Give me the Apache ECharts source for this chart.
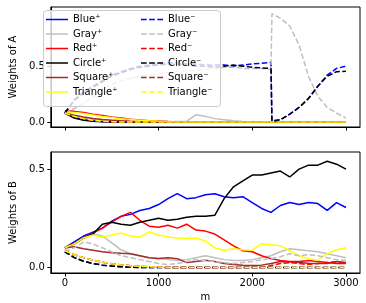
<!DOCTYPE html>
<html><head><meta charset="utf-8">
<script src="https://cdn.jsdelivr.net/npm/echarts@6/dist/echarts.min.js"></script>
<style>html,body{margin:0;padding:0;background:#fff}#c{width:366px;height:303px}</style>
</head><body><div id="c"></div>
<script>
const names = ['Blue\u207A','Gray\u207A','Red\u207A','Circle\u207A','Square\u207A','Triangle\u207A',
               'Blue\u207B','Gray\u207B','Red\u207B','Circle\u207B','Square\u207B','Triangle\u207B'];
const colors = ['#0000ff','#bfbfbf','#ff0000','#000000','#a52a2a','#ffff00'];
const xTicks = [0,1000,2000,3000];
const yTicks = [0,0.5];

// Panel A: m positions (a jump just after 2200)
const mA = [0,100,200,300,400,500,600,700,800,900,1000,1100,1200,1300,1400,1500,1600,1700,1800,1900,2000,2100,2200,2210,2300,2400,2500,2600,2700,2800,2900,3000];
const A_bluePlus   = [0.08,0.04,0.02,0.01,0.004,0,0,0,0,0,0,0,0,0,0,0,0,0,0,0,0,0,0,0,0,0,0,0,0,0,0,0];
const A_grayPlus   = [0.08,0.05,0.035,0.025,0.02,0.015,0.01,0.006,0.005,0.005,0.004,0.004,0.004,0.005,0.065,0.05,0.03,0.02,0.01,0.004,0,0,0,0,0,0,0,0,0,0,0,0];
const A_redPlus    = [0.1,0.095,0.085,0.07,0.058,0.045,0.035,0.025,0.018,0.012,0.008,0.005,0.003,0.001,0,0,0,0,0,0,0,0,0,0,0,0,0,0,0,0,0,0];
const A_circlePlus = [0.08,0.035,0.015,0.006,0.002,0,0,0,0,0,0,0,0,0,0,0,0,0,0,0,0,0,0,0,0,0,0,0,0,0,0,0];
const A_squarePlus = [0.08,0.06,0.045,0.032,0.022,0.015,0.01,0.006,0.003,0.001,0,0,0,0,0,0,0,0,0,0,0,0,0,0,0,0,0,0,0,0,0,0];
const A_triPlus    = [0.09,0.085,0.075,0.062,0.05,0.04,0.03,0.022,0.015,0.01,0.006,0.003,0.001,0,0,0,0,0,0,0,0,0,0,0,0,0,0,0,0,0,0,0];
const A_blueMinus  = [0.08,0.2,0.27,0.32,0.37,0.42,0.45,0.48,0.5,0.51,0.52,0.53,0.53,0.52,0.52,0.51,0.51,0.51,0.5,0.51,0.52,0.525,0.535,0.0,0.02,0.07,0.13,0.21,0.32,0.42,0.48,0.5];
const A_grayMinus  = [0.08,0.12,0.17,0.22,0.29,0.34,0.37,0.39,0.41,0.42,0.43,0.44,0.45,0.46,0.46,0.47,0.48,0.49,0.49,0.48,0.48,0.48,0.47,0.97,0.93,0.86,0.69,0.41,0.23,0.13,0.08,0.035];
const A_redMinus   = [0.08,0.05,0.03,0.015,0.007,0.003,0,0,0,0,0,0,0,0,0,0,0,0,0,0,0,0,0,0,0,0,0,0,0,0,0,0];
const A_circleMinus= [0.08,0.19,0.26,0.31,0.36,0.41,0.44,0.47,0.49,0.5,0.51,0.52,0.52,0.51,0.5,0.5,0.49,0.5,0.51,0.5,0.49,0.485,0.48,0.01,0.02,0.07,0.13,0.21,0.32,0.41,0.45,0.455];
const A_squareMinus= [0.08,0.05,0.03,0.015,0.007,0.003,0,0,0,0,0,0,0,0,0,0,0,0,0,0,0,0,0,0,0,0,0,0,0,0,0,0];
const A_triMinus   = [0.08,0.05,0.03,0.015,0.007,0.003,0,0,0,0,0,0,0,0,0,0,0,0,0,0,0,0,0,0,0,0,0,0,0,0,0,0];

// Panel B: m positions
const mB = [0,100,200,300,400,500,600,700,800,900,1000,1100,1200,1300,1400,1500,1600,1700,1800,1900,2000,2100,2200,2300,2400,2500,2600,2700,2800,2900,3000];
const B_bluePlus   = [0.1,0.13,0.16,0.18,0.2,0.235,0.26,0.27,0.29,0.3,0.32,0.35,0.375,0.35,0.355,0.37,0.375,0.36,0.355,0.36,0.33,0.3,0.28,0.315,0.33,0.32,0.33,0.325,0.29,0.33,0.305];
const B_grayPlus   = [0.09,0.12,0.15,0.17,0.16,0.125,0.09,0.07,0.06,0.05,0.045,0.04,0.035,0.04,0.05,0.06,0.05,0.04,0.035,0.035,0.04,0.05,0.06,0.08,0.095,0.09,0.085,0.08,0.07,0.06,0.05];
const B_redPlus    = [0.1,0.12,0.15,0.175,0.2,0.23,0.26,0.28,0.24,0.21,0.205,0.215,0.2,0.22,0.19,0.185,0.17,0.14,0.11,0.085,0.08,0.06,0.045,0.035,0.03,0.03,0.035,0.03,0.025,0.02,0.02];
const B_circlePlus = [0.1,0.12,0.15,0.17,0.22,0.23,0.22,0.215,0.23,0.24,0.25,0.24,0.245,0.255,0.26,0.26,0.265,0.35,0.41,0.44,0.47,0.47,0.48,0.49,0.46,0.5,0.52,0.52,0.54,0.525,0.5];
const B_squarePlus = [0.1,0.105,0.095,0.088,0.08,0.075,0.072,0.07,0.06,0.05,0.046,0.05,0.045,0.025,0.03,0.037,0.03,0.02,0.015,0.012,0.01,0.012,0.02,0.03,0.028,0.025,0.022,0.02,0.02,0.03,0.025];
const B_triPlus    = [0.1,0.12,0.15,0.165,0.155,0.165,0.175,0.16,0.155,0.18,0.165,0.155,0.15,0.147,0.15,0.135,0.1,0.088,0.095,0.09,0.088,0.12,0.115,0.11,0.085,0.06,0.045,0.037,0.07,0.09,0.1];
const B_blueMinus  = [0.08,0.05,0.032,0.02,0.012,0.007,0.004,0.002,0,0,0,0,0,0,0,0,0,0,0,0,0,0,0,0,0,0,0,0,0,0,0];
const B_grayMinus  = [0.08,0.1,0.13,0.12,0.1,0.08,0.06,0.05,0.04,0.03,0.02,0.015,0.02,0.03,0.04,0.035,0.03,0.025,0.02,0.025,0.03,0.04,0.045,0.055,0.07,0.06,0.065,0.06,0.05,0.04,0.035];
const B_redMinus   = [0.085,0.065,0.05,0.037,0.027,0.019,0.013,0.009,0.006,0.004,0.002,0,0,0,0,0,0,0,0,0,0,0,0.01,0.02,0.025,0.02,0.015,0.02,0.025,0.03,0.02];
const B_circleMinus= [0.08,0.05,0.032,0.02,0.012,0.007,0.004,0.002,0,0,0,0,0,0,0,0,0,0,0,0,0,0,0,0,0,0,0,0,0,0,0];
const B_squareMinus= [0.085,0.065,0.05,0.037,0.027,0.019,0.013,0.009,0.006,0.004,0.002,0,0,0,0,0,0,0,0,0,0,0,0,0,0,0,0,0,0,0,0];
const B_triMinus   = [0.085,0.065,0.05,0.037,0.027,0.019,0.013,0.009,0.006,0.004,0.002,0,0,0,0,0,0,0,0,0,0,0,0,0,0,0,0,0,0,0,0];

const A_vals = [A_bluePlus,A_grayPlus,A_redPlus,A_circlePlus,A_squarePlus,A_triPlus,
                A_blueMinus,A_grayMinus,A_redMinus,A_circleMinus,A_squareMinus,A_triMinus];
const B_vals = [B_bluePlus,B_grayPlus,B_redPlus,B_circlePlus,B_squarePlus,B_triPlus,
                B_blueMinus,B_grayMinus,B_redMinus,B_circleMinus,B_squareMinus,B_triMinus];

const FONT = 'DejaVu Sans';
function mkSeries(idx, xs, ys, gi){
  const dashed = idx >= 6;
  return {
    type:'line', name:names[idx], xAxisIndex:gi, yAxisIndex:gi, z:2,
    data: xs.map((x,i)=>[x, ys[i]]),
    showSymbol:false, symbol:'none', animation:false,
    lineStyle:{color:colors[idx%6], width:1.5, type: dashed ? [5.5,2.4] : 'solid'},
    itemStyle:{color:colors[idx%6]}
  };
}
const series = [];
A_vals.forEach((v,i)=>series.push(mkSeries(i, mA, v, 0)));
B_vals.forEach((v,i)=>series.push(mkSeries(i, mB, v, 1)));

function xAxis(gi, showLabels){
  return {
    type:'value', gridIndex:gi, min:-150, max:3150,
    name: showLabels ? 'm' : '', nameLocation:'middle', nameGap:19,
    nameTextStyle:{fontFamily:FONT, fontSize:10, color:'#000'},
    axisLine:{show:true, onZero:false, lineStyle:{color:'#000', width:1}},
    axisTick:{show:true, length:3.5, inside:false, customValues:xTicks, lineStyle:{color:'#000'}},
    axisLabel:{show:showLabels, customValues:xTicks, margin:5, fontFamily:FONT, fontSize:10, color:'#000',
               formatter: v => String(Math.round(v))},
    splitLine:{show:false}
  };
}
function yAxis(gi, min, max, label){
  return {
    type:'value', gridIndex:gi, min:min, max:max,
    name: label, nameLocation:'middle', nameGap:24, nameRotate:90,
    nameTextStyle:{fontFamily:FONT, fontSize:10, color:'#000'},
    axisLine:{show:true, onZero:false, lineStyle:{color:'#000', width:1}},
    axisTick:{show:true, length:3.5, customValues:yTicks, lineStyle:{color:'#000'}},
    axisLabel:{show:true, customValues:yTicks, margin:6, fontFamily:FONT, fontSize:10, color:'#000',
               formatter: v => v.toFixed(1)},
    splitLine:{show:false}
  };
}
const ICON_SOLID = 'path://M0,0h22v1.5h-22z';
const ICON_DASH  = 'path://M0,0h5.5v1.5h-5.5zM7.9,0h5.5v1.5h-5.5zM15.8,0h5.5v1.5h-5.5z';
function legend(idxs, left){
  return {
    show:true, orient:'vertical', left:left, top:13.5, itemWidth:22, itemHeight:12, itemGap:2.5,
    padding:0, selectedMode:false, z:101, symbolKeepAspect:true,
    data: idxs.map(i=>({name:names[i], icon: i>=6 ? ICON_DASH : ICON_SOLID, itemStyle:{color:colors[i%6]}})),
    textStyle:{fontFamily:FONT, fontSize:10, color:'#000', lineHeight:12}
  };
}
const chart = echarts.init(document.getElementById('c'), null, {renderer:'canvas'});
chart.setOption({
  animation:false,
  backgroundColor:'#fff',
  grid:[
    {left:38, top:7, width:322, height:120, show:true, borderColor:'#000', borderWidth:1, backgroundColor:'transparent'},
    {left:38, top:152, width:322, height:121, show:true, borderColor:'#000', borderWidth:1, backgroundColor:'transparent'}
  ],
  xAxis:[xAxis(0,false), xAxis(1,true)],
  yAxis:[yAxis(0,-0.045,1.03,'Weights of A'), yAxis(1,-0.028,0.587,'Weights of B')],
  legend:[legend([0,1,2,3,4,5],46), legend([6,7,8,9,10,11],141)],
  graphic:{elements:[{type:'rect', z:100, zlevel:0, shape:{x:43.5, y:10.5, width:177, height:96, r:3},
            style:{fill:'rgba(255,255,255,0.8)', stroke:'#cccccc', lineWidth:1}}]},
  series: series
});
</script></body></html>
